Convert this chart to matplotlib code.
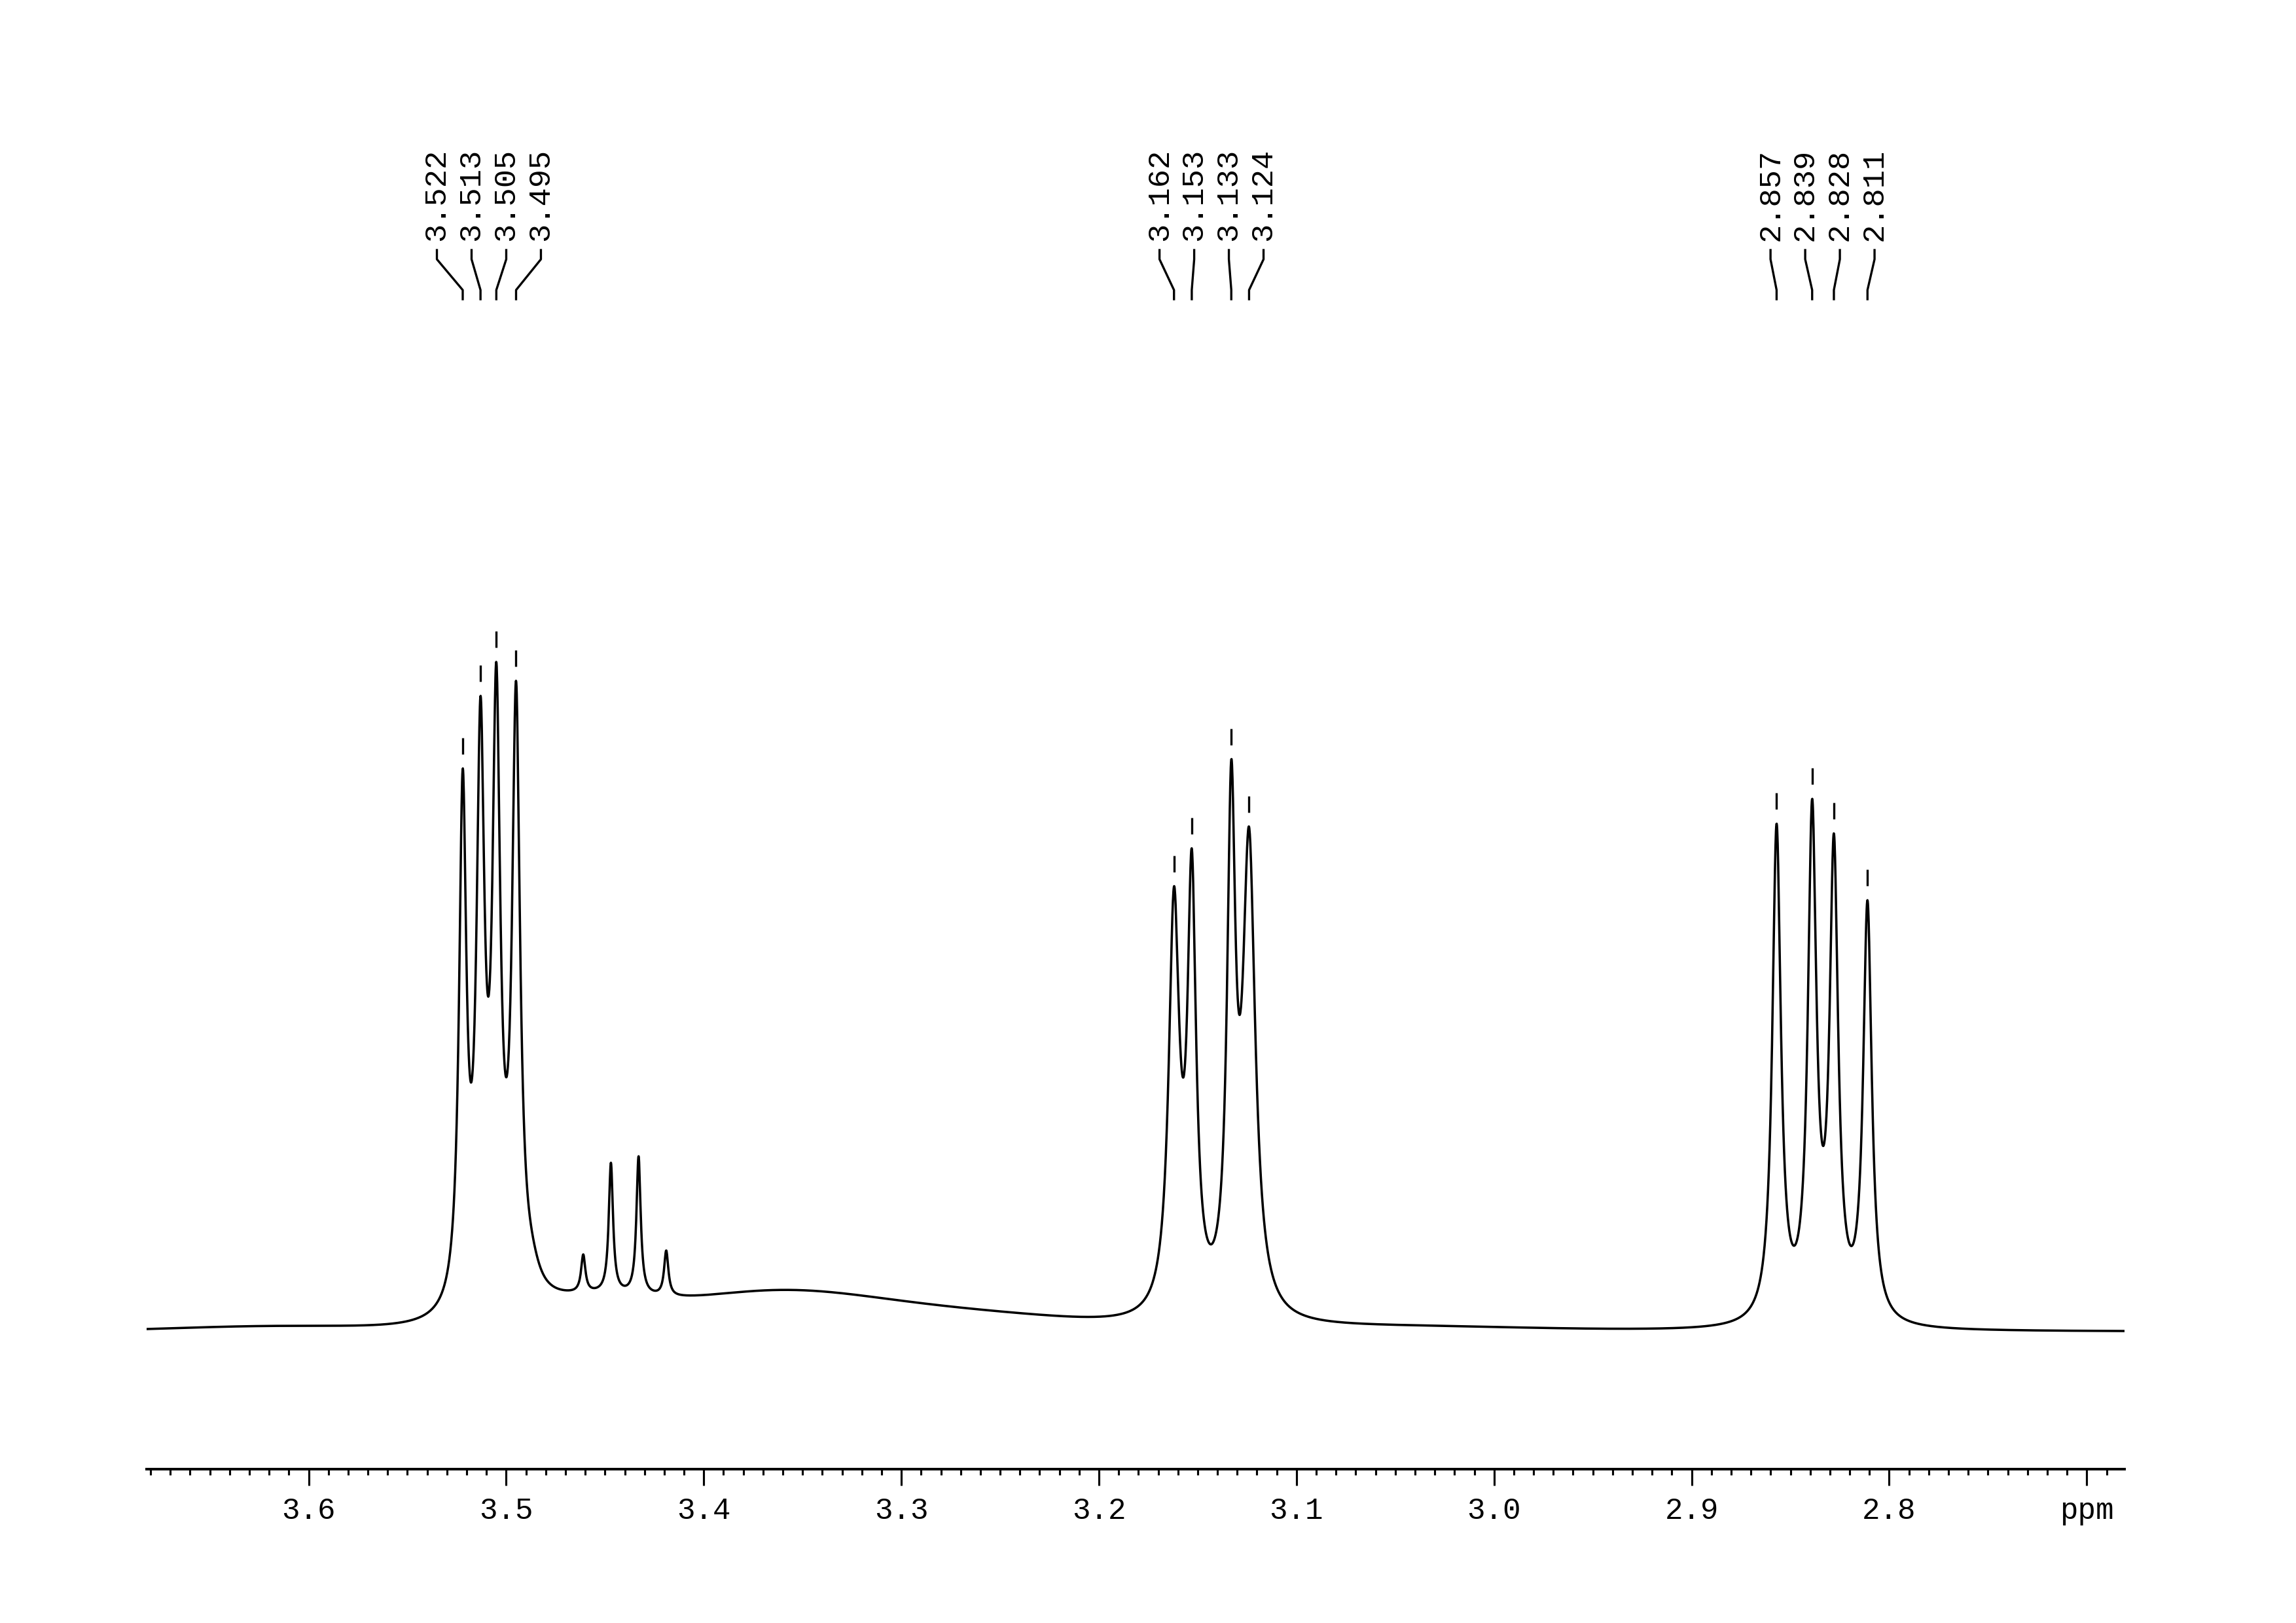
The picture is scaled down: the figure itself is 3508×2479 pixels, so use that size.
import numpy as np
import matplotlib.pyplot as plt
from matplotlib.ticker import FixedLocator, MultipleLocator
from matplotlib.transforms import blended_transform_factory

# picked peaks (ppm) and peak-top heights above baseline (in px of the original)
group1_ppm = [3.522, 3.513, 3.505, 3.495]
group1_height = [860, 971, 1023, 994]
group2_ppm = [3.162, 3.153, 3.133, 3.124]
group2_height = [680, 738, 874, 771]
group3_ppm = [2.857, 2.839, 2.828, 2.811]
group3_height = [776, 814, 761, 659]
# small unlabelled lines right of group 1
small_ppm = [3.461, 3.447, 3.433, 3.419]
small_height = [118, 258, 268, 124]
# lorentzian half widths (ppm)
group1_hw = [0.0022, 0.0024, 0.0024, 0.0024]
group2_hw = [0.0032, 0.0026, 0.0025, 0.0038]
group3_hw = [0.0026, 0.0026, 0.0026, 0.0026]
small_hw = [0.0013, 0.0013, 0.0013, 0.0013]
# broad underlying signal (centre, height, sigma)
broad_ppm = [3.62, 3.46, 3.365, 3.26, 3.05]
broad_height = [7, 35, 58, 22, 6.5]
broad_sigma = [0.05, 0.03, 0.055, 0.055, 0.07]
# shoulder on the high field side of group 1
shoulder_ppm = [3.487]
shoulder_height = [25]
shoulder_hw = [0.005]

tick_values = [3.6, 3.5, 3.4, 3.3, 3.2, 3.1, 3.0, 2.9, 2.8, 2.7]
tick_labels = ['3.6', '3.5', '3.4', '3.3', '3.2', '3.1', '3.0', '2.9', '2.8', 'ppm']

x_left, x_right = 3.682, 2.681


def lorentz(x, c, hw):
    return hw**2 / (hw**2 + (x - c)**2)


def broad(x):
    y = np.zeros_like(x, dtype=float)
    for c, h, s in zip(broad_ppm, broad_height, broad_sigma):
        y += h * np.exp(-(x - c)**2 / (2 * s**2))
    for c, h, w in zip(shoulder_ppm, shoulder_height, shoulder_hw):
        y += h * lorentz(x, c, w)
    return y


#Narrow lines: solve amplitudes so the curve hits the read peak tops
pos = np.array(group1_ppm + group2_ppm + group3_ppm + small_ppm)
hts = np.array(group1_height + group2_height + group3_height + small_height, dtype=float)
hws = np.array(group1_hw + group2_hw + group3_hw + small_hw)
M = lorentz(pos[:, None], pos[None, :], hws[None, :])
amps = np.linalg.solve(M, hts - broad(pos))


def spectrum(x):
    x = np.asarray(x, dtype=float)
    return broad(x) + (amps[None, :] * lorentz(x[:, None], pos[None, :], hws[None, :])).sum(axis=1)


xs = np.linspace(x_right, x_left, 8000)
ys = spectrum(xs)

#Figure
W, H = 3508, 2479
fig = plt.figure(figsize=(W / 300, H / 300), dpi=300)
ax_bottom_px, ax_top_px = 2244, 900
ax = fig.add_axes([224 / W, 1 - ax_bottom_px / H, (3245.7 - 224) / W, (ax_bottom_px - ax_top_px) / H])
base_px = 2034
ax.set_ylim(base_px - ax_bottom_px, base_px - ax_top_px)
ax.set_xlim(x_left, x_right)

ax.plot(xs, ys, color='black', lw=0.85)

#Peak markers above the picked peaks
picked = group1_ppm + group2_ppm + group3_ppm
tops = spectrum(picked)
ax.vlines(picked, tops + 22, tops + 47, color='black', lw=0.8)

#Axis styling
for s in ['left', 'right', 'top']:
    ax.spines[s].set_visible(False)
ax.spines['bottom'].set_linewidth(0.95)
ax.set_yticks([])
ax.xaxis.set_major_locator(FixedLocator(tick_values))
ax.xaxis.set_minor_locator(MultipleLocator(0.01))
ax.set_xticklabels(tick_labels)
ax.tick_params(axis='x', which='major', direction='out', length=6, width=0.75, pad=4,
               labelsize=11, labelfontfamily='Liberation Mono')
ax.tick_params(axis='x', which='minor', direction='out', length=2.2, width=0.75)

#Peak labels with leader lines
trans = blended_transform_factory(ax.transData, fig.transFigure)
spacing = 0.01755
y_text = 1 - 368 / H
y_l1, y_l2, y_l3, y_l4 = 1 - 382 / H, 1 - 396 / H, 1 - 443 / H, 1 - 457 / H
for grp in [group1_ppm, group2_ppm, group3_ppm]:
    center = np.mean(grp)
    for i, p in enumerate(grp):
        lx = center + (1.5 - i) * spacing
        ax.plot([lx, lx, p, p], [y_l1, y_l2, y_l3, y_l4], color='black', lw=0.8,
                transform=trans, clip_on=False)
        ax.text(lx, y_text, '%.3f' % p, rotation=90, ha='center', va='bottom',
                fontsize=11.3, family='Liberation Mono', transform=trans)

plt.savefig('out.png', dpi=300)
